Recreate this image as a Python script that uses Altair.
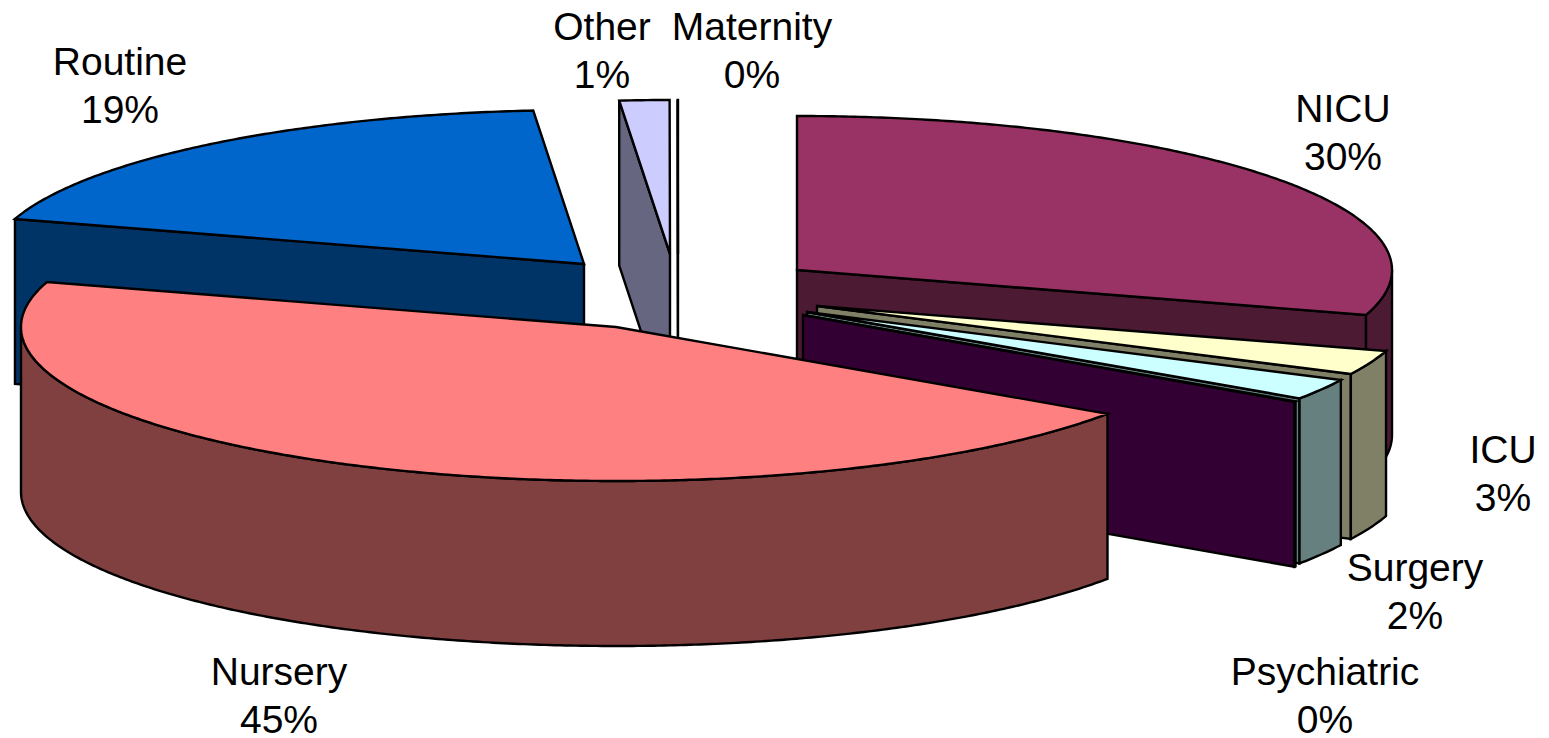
import math
import altair as alt

# --- chart values (percent of the whole pie) ---
categories = ["NICU", "ICU", "Surgery", "Psychiatric", "Nursery", "Routine", "Other", "Maternity"]
shares = [29.72, 2.56, 2.2, 0.05, 45.19, 18.92, 1.35, 0.01]
top_colors = ["#993366", "#FFFFCC", "#CCFFFF", "#660066", "#FF8080", "#0066CC", "#CCCCFF", "#FFFFFF"]
wall_colors = ["#4D1A33", "#808066", "#668080", "#330033", "#804040", "#003366", "#666680", "#808080"]

# --- layout of the 3-D pie ---
W, H = 1533, 730
M = 8
RX_DEFAULT, RY, DEPTH = 595, 154, 165
apex = {
    "NICU": (797, 270), "ICU": (817, 306), "Surgery": (807, 312), "Psychiatric": (803, 315),
    "Nursery": (616, 327), "Routine": (584, 264), "Other": (670, 254), "Maternity": (678, 254),
}
label_pos = {
    "NICU": (1343, 110), "ICU": (1503, 451), "Surgery": (1415, 569), "Psychiatric": (1325, 673),
    "Nursery": (279, 673), "Routine": (120, 63), "Other": (602, 28), "Maternity": (752, 28),
}
paint_order = ["NICU", "Routine", "Other", "Maternity", "ICU", "Surgery", "Psychiatric", "Nursery"]


def rim(name, deg):
    cx, cy = apex[name]
    t = math.radians(deg)
    return (cx + RX_DEFAULT * math.sin(t) - M, cy - RY * math.cos(t) - M)


def arc_points(name, a0, a1):
    n = max(2, int(abs(a1 - a0) * 2) + 1)
    return [rim(name, a0 + (a1 - a0) * i / (n - 1)) for i in range(n)]


def feature(points, fill):
    pts = [list(p) for p in points]
    pts.append(pts[0])
    return {
        "type": "Feature",
        "geometry": {"type": "Polygon", "coordinates": [pts]},
        "properties": {"fill": fill},
    }


def drop(points):
    return [(x, y + DEPTH) for x, y in points]


spans = {}
acc = 0.0
for name, share in zip(categories, shares):
    spans[name] = (acc, acc + share * 3.6)
    acc += share * 3.6

features = []
for name in paint_order:
    i = categories.index(name)
    a0, a1 = spans[name]
    top, wall = top_colors[i], wall_colors[i]
    c = (apex[name][0] - M, apex[name][1] - M)
    # radial cut faces that look towards the viewer
    if a1 < 180:
        p = rim(name, a1)
        features.append(feature([c, p, (p[0], p[1] + DEPTH), (c[0], c[1] + DEPTH)], wall))
    if a0 > 180:
        p = rim(name, a0)
        features.append(feature([c, p, (p[0], p[1] + DEPTH), (c[0], c[1] + DEPTH)], wall))
    # outer wall: front half of the rim only
    f0, f1 = max(a0, 90), min(a1, 270)
    if f1 > f0:
        arc = arc_points(name, f0, f1)
        features.append(feature(arc + drop(arc)[::-1], wall))
    # top face
    features.append(feature([c] + arc_points(name, a0, a1), top))

shapes = (
    alt.Chart(alt.InlineData(
        values={"type": "FeatureCollection", "features": features},
        format=alt.DataFormat(property="features", type="json"),
    ))
    .mark_geoshape(stroke="black", strokeWidth=2.4, strokeJoin="miter")
    .encode(fill=alt.Fill("properties.fill:N", scale=None, legend=None))
    .project(type="identity", scale=1, translate=[0, 0])
)

labels = [
    {"text": f"{n}\n{round(s)}%", "x": label_pos[n][0] - M, "y": label_pos[n][1] - M}
    for n, s in zip(categories, shares)
]
text = (
    alt.Chart(alt.Data(values=labels))
    .mark_text(font="Liberation Sans", fontSize=39, color="black", align="center",
               baseline="middle", lineBreak="\n", lineHeight=47.5)
    .encode(
        x=alt.X("x:Q", axis=None, scale=alt.Scale(domain=[0, W], range=[0, W], nice=False, zero=False)),
        y=alt.Y("y:Q", axis=None, scale=alt.Scale(domain=[0, H], range=[0, H], nice=False, zero=False)),
        text="text:N",
    )
)

chart = (
    alt.layer(shapes, text)
    .properties(width=W, height=H, padding=0, background="white",
                autosize=alt.AutoSizeParams(type="none"))
    .configure_view(stroke=None)
)
chart.save("out.html", embed_options={"renderer": "svg", "actions": False})
